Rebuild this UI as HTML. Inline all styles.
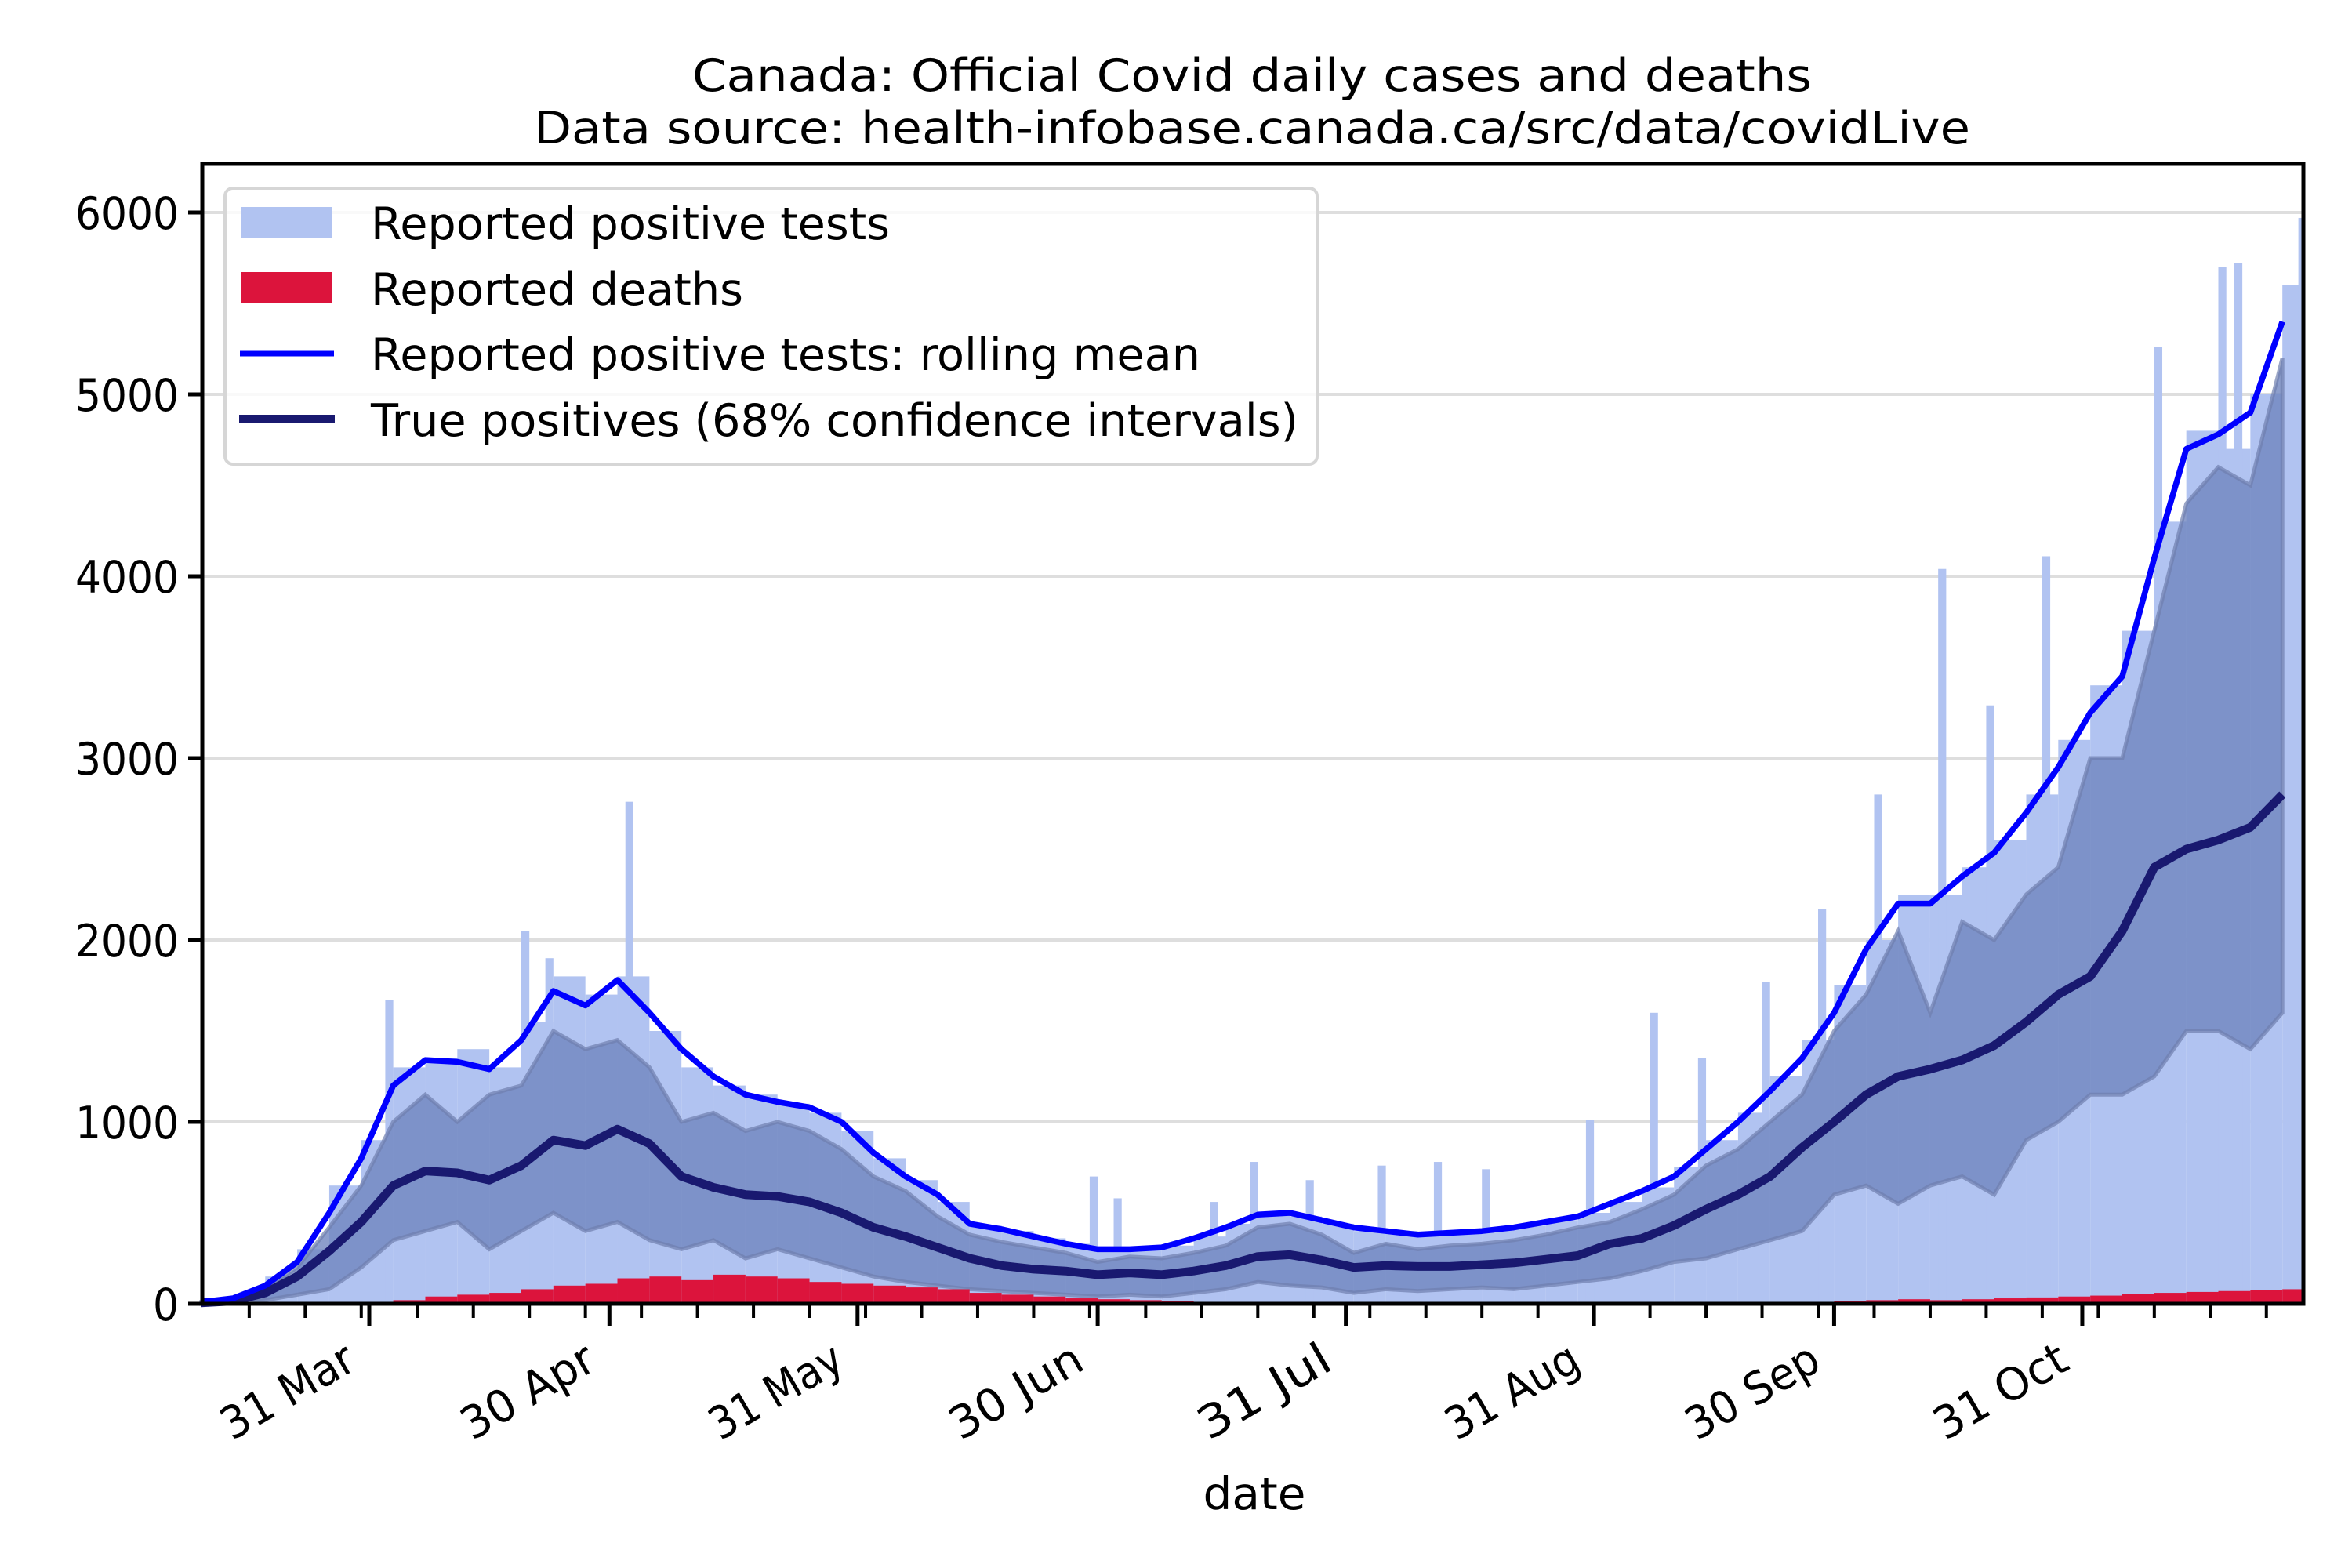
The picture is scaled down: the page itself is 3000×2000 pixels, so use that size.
<!DOCTYPE html>
<html><head><meta charset="utf-8"><style>
html,body{margin:0;padding:0;background:#fff;}
svg{display:block;font-family:"DejaVu Sans","Liberation Sans",sans-serif;}
</style></head><body>
<svg id="chart" width="3000" height="2000" viewBox="0 0 3000 2000" xmlns="http://www.w3.org/2000/svg">
<rect width="3000" height="2000" fill="#fff"/>
<text x="1597" y="116" font-size="57" text-anchor="middle" textLength="1428" lengthAdjust="spacingAndGlyphs">Canada: Official Covid daily cases and deaths</text>
<text x="1597" y="183" font-size="57" text-anchor="middle" textLength="1832" lengthAdjust="spacingAndGlyphs">Data source: health-infobase.canada.ca/src/data/covidLive</text>
<g id="grid"></g>
<g id="plot"></g>
<g id="axes"></g>
<text x="1600" y="1925" font-size="57" text-anchor="middle" textLength="131" lengthAdjust="spacingAndGlyphs">date</text>
<g>
<rect x="287" y="240" width="1393" height="352" rx="10" fill="#fff" fill-opacity="0.8" stroke="#d6d6d6" stroke-width="4"/>
<rect x="308" y="264" width="116" height="40" fill="#b1c3f1"/>
<text x="473" y="305" font-size="57" textLength="662" lengthAdjust="spacingAndGlyphs">Reported positive tests</text>
<rect x="308" y="347" width="116" height="40" fill="#dc143c"/>
<text x="473" y="389" font-size="57" textLength="475" lengthAdjust="spacingAndGlyphs">Reported deaths</text>
<line x1="306" y1="451" x2="426" y2="451" stroke="#0000ff" stroke-width="7"/>
<text x="473" y="472" font-size="57" textLength="1058" lengthAdjust="spacingAndGlyphs">Reported positive tests: rolling mean</text>
<line x1="305" y1="534" x2="427" y2="534" stroke="#191970" stroke-width="10"/>
<text x="473" y="556" font-size="57" textLength="1183" lengthAdjust="spacingAndGlyphs">True positives (68% confidence intervals)</text>
</g>
</svg>
<script>
// day 0 = 10 Mar; points every 4 days
const step = 4;
const rollingMean = [10,30,100,230,500,800,1200,1340,1330,1290,1450,1720,1640,1780,1600,1400,1250,1150,1110,1080,1000,830,700,600,440,410,370,330,300,300,310,360,420,490,500,460,420,400,380,390,400,420,450,480,550,620,700,850,1000,1170,1350,1600,1950,2200,2200,2350,2480,2700,2950,3250,3450,4100,4700,4780,4900,5400];
const truePos = [5,15,60,150,290,450,650,730,720,680,760,900,870,960,880,700,640,600,590,560,500,420,370,310,250,210,190,180,160,170,160,180,210,260,270,240,200,210,205,205,215,225,245,265,330,360,430,520,600,700,860,1000,1150,1250,1290,1340,1420,1550,1700,1800,2050,2400,2500,2550,2620,2800];
const ciUpper = [10,25,80,200,420,650,1000,1150,1000,1150,1200,1500,1400,1450,1300,1000,1050,950,1000,950,850,700,620,480,380,340,310,280,230,260,250,280,320,420,440,380,280,330,300,320,330,350,380,420,450,520,600,760,850,1000,1150,1500,1700,2050,1600,2100,2000,2250,2400,3000,3000,3700,4400,4600,4500,5200];
const ciLower = [0,5,20,50,80,200,350,400,450,300,400,500,400,450,350,300,350,250,300,250,200,150,120,100,80,70,60,50,40,50,40,60,80,120,100,90,60,80,70,80,90,80,100,120,140,180,230,250,300,350,400,600,650,550,650,700,600,900,1000,1150,1150,1250,1500,1500,1400,1600];
const caseBars = [20,50,150,300,650,900,1300,1350,1400,1300,1550,1800,1700,1800,1500,1300,1200,1150,1100,1050,950,800,680,560,430,400,360,330,300,310,320,370,440,500,480,440,400,400,380,400,410,430,460,500,560,640,750,900,1050,1250,1450,1750,2000,2250,2250,2400,2550,2800,3100,3400,3700,4300,4800,4700,5000,5600];
const deaths = [0,0,0,0,0,5,20,40,50,60,80,100,110,140,150,130,160,150,140,120,110,100,90,80,60,50,40,30,25,20,15,10,10,5,5,5,5,5,5,5,5,5,5,5,5,5,5,5,5,10,10,15,20,25,20,25,30,35,40,45,55,60,65,70,75,80];
const spikeDays = [23,40,43,53,111,114,126,131,138,147,154,160,173,181,187,195,202,209,217,223,230,244,252,254,257,262];
const spikeValues = [1670,2050,1900,2760,700,580,560,780,680,760,780,740,1010,1600,1350,1770,2170,2800,4040,3290,4110,5260,5700,5720,5000,5970];
const yTicks = [0,1000,2000,3000,4000,5000,6000];
const monthDays = [21,51,82,112,143,174,204,235];
const monthLabels = ["31 Mar","30 Apr","31 May","30 Jun","31 Jul","31 Aug","30 Sep","31 Oct"];

const X0 = 258, X1 = 2938, Y0 = 1663, YT = 209;
function xs(d){ return 471 + (d - 21) * 10.21; }
function ys(v){ return Y0 - v * 0.232; }
const NS = "http://www.w3.org/2000/svg";
function mk(tag, attrs, parent){ const e = document.createElementNS(NS, tag); for (const k in attrs) e.setAttribute(k, attrs[k]); parent.appendChild(e); return e; }
const grid = document.getElementById('grid'), plot = document.getElementById('plot'), axes = document.getElementById('axes');

yTicks.forEach(v => {
  if (v === 0) return;
  const l = mk('line', {x1:X0, x2:X1, y1:ys(v), y2:ys(v), stroke:'#dedede', 'stroke-width':4}, grid);
  
  
});

caseBars.forEach((v, i) => {
  const d = i * step;
  const w = Math.max(0, Math.min(step*10.21, X1 - xs(d)));
  const r = mk('rect', {x:xs(d), y:ys(v), width:w, height:Y0 - ys(v), fill:'#b1c3f1'}, plot);
  
  
});
spikeDays.forEach((d, i) => {
  const v = spikeValues[i];
  const w = Math.max(0, Math.min(10.2, X1 - xs(d)));
  const r = mk('rect', {x:xs(d), y:ys(v), width:w, height:Y0 - ys(v), fill:'#b1c3f1'}, plot);
  
  
});

function xd(i){ return xs(Math.min(i*step, 262)); }
let p = '';
ciUpper.forEach((v, i) => { p += (i ? 'L' : 'M') + xd(i).toFixed(1) + ',' + ys(v).toFixed(1); });
for (let i = ciLower.length - 1; i >= 0; i--) p += 'L' + xd(i).toFixed(1) + ',' + ys(ciLower[i]).toFixed(1);
p += 'Z';
const band = mk('path', {d:p, fill:'#7186bf', 'fill-opacity':0.8, stroke:'#6f7fae', 'stroke-opacity':0.7, 'stroke-width':5}, plot);



deaths.forEach((v, i) => {
  if (v <= 0) return;
  const d = i * step;
  const w = Math.max(0, Math.min(step*10.21, X1 - xs(d)));
  const r = mk('rect', {x:xs(d), y:ys(v), width:w, height:Y0 - ys(v), fill:'#dc143c'}, plot);
  
  
});

function line(arr, color, w, name){
  let s = '';
  arr.forEach((v, i) => { s += (i ? 'L' : 'M') + xd(i).toFixed(1) + ',' + ys(v).toFixed(1); });
  const l = mk('path', {d:s, fill:'none', stroke:color, 'stroke-width':w, 'stroke-linejoin':'round'}, plot);
  
  
}
line(truePos, '#191970', 11, 'true-positives-line');
line(rollingMean, '#0000ff', 7.5, 'rolling-mean-line');

const fr = mk('rect', {x:X0, y:YT, width:X1 - X0, height:Y0 - YT, fill:'none', stroke:'#000', 'stroke-width':5}, axes);



yTicks.forEach(v => {
  const t = mk('line', {x1:X0 - 18, x2:X0, y1:ys(v), y2:ys(v), stroke:'#000', 'stroke-width':5}, axes);
  
  
  const s = String(v);
  const tx = mk('text', {x:X0 - 30, y:ys(v) + 21, 'font-size':57, 'text-anchor':'end', textLength:(s.length * 33), lengthAdjust:'spacingAndGlyphs'}, axes);
  tx.textContent = s;
  
  
});
for (let d = 6; d <= 262; d += 7) {
  const t = mk('line', {x1:xs(d), x2:xs(d), y1:Y0, y2:Y0 + 18, stroke:'#000', 'stroke-width':4}, axes);
  
  
}
monthDays.forEach((d, i) => {
  const x = xs(d);
  const t = mk('line', {x1:x, x2:x, y1:Y0, y2:Y0 + 28, stroke:'#000', 'stroke-width':5}, axes);
  
  
  const ax = x - 14, ay = Y0 + 82;
  const tx = mk('text', {x:ax, y:ay, 'font-size':57, 'text-anchor':'end', textLength:(monthLabels[i].length * 31), lengthAdjust:'spacingAndGlyphs', transform:'rotate(-30 ' + ax + ' ' + ay + ')'}, axes);
  tx.textContent = monthLabels[i];
  
  
});
</script>
</body></html>
